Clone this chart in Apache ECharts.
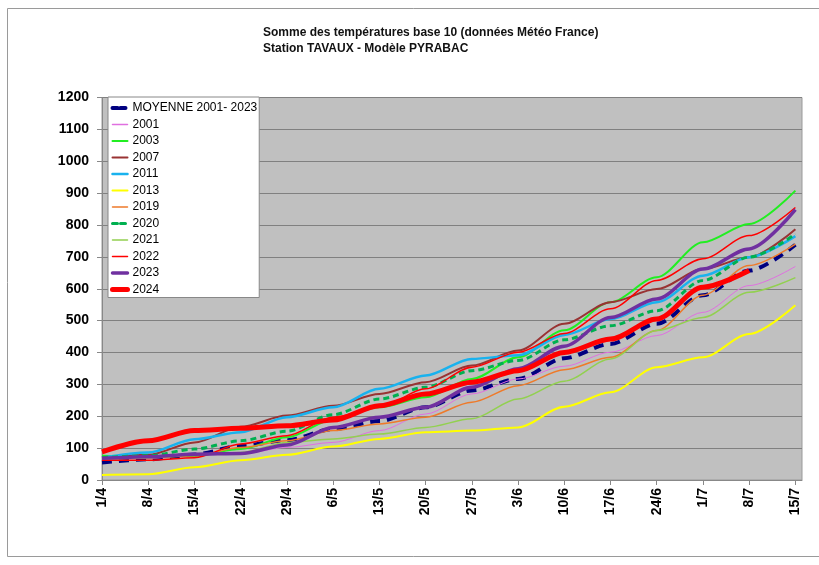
<!DOCTYPE html>
<html>
<head>
<meta charset="utf-8">
<script src="https://cdn.jsdelivr.net/npm/echarts@6/dist/echarts.min.js"></script>
<style>
html,body{margin:0;padding:0;background:#fff;}
#chart{width:819px;height:565px;}
</style>
</head>
<body>
<div id="chart"></div>
<script>
// Day offsets from 1 April for the weekly tick positions
const weekDays = [0, 7, 14, 21, 28, 35, 42, 49, 56, 63, 70, 77, 84, 91, 98, 105];
const tickLabels = ['1/4','8/4','15/4','22/4','29/4','6/5','13/5','20/5','27/5','3/6','10/6','17/6','24/6','1/7','8/7','15/7'];
const yTicks = [0, 100, 200, 300, 400, 500, 600, 700, 800, 900, 1000, 1100, 1200];

const moyenne = [55, 65, 80, 107, 125, 160, 185, 228, 281, 317, 382, 427, 490, 580, 657, 738];
const y2001 = [65, 68, 79, 81, 102, 118, 155, 207, 270, 317, 357, 401, 453, 526, 610, 670];
const y2003 = [76, 73, 76, 97, 134, 190, 228, 260, 317, 385, 470, 558, 636, 746, 803, 908];
const y2007 = [70, 79, 118, 167, 202, 233, 270, 307, 359, 406, 490, 558, 599, 662, 699, 787];
const y2011 = [70, 86, 128, 150, 197, 228, 286, 328, 380, 391, 455, 505, 558, 641, 699, 765];
const y2013 = [16, 18, 40, 62, 79, 105, 129, 150, 155, 165, 230, 275, 354, 385, 458, 548];
const y2019 = [65, 70, 76, 102, 123, 155, 176, 197, 244, 296, 346, 385, 469, 580, 673, 740];
const y2020 = [70, 76, 97, 123, 153, 205, 254, 291, 343, 375, 440, 484, 531, 626, 699, 772];
const y2021 = [65, 70, 79, 86, 118, 129, 144, 165, 192, 254, 310, 380, 469, 510, 589, 635];
const y2022 = [62, 62, 70, 113, 139, 197, 228, 286, 354, 401, 460, 537, 626, 694, 767, 855];
const y2023 = [68, 73, 81, 83, 110, 165, 197, 228, 291, 349, 420, 510, 568, 662, 725, 848];
const y2024 = [88, 123, 155, 162, 170, 188, 233, 270, 307, 343, 400, 442, 505, 605, 657];

const seriesDefs = [
  {name: 'MOYENNE 2001- 2023', data: moyenne, color: '#000080', width: 4, dash: [10, 7]},
  {name: '2001', data: y2001, color: '#E070E0', width: 1},
  {name: '2003', data: y2003, color: '#22EE22', width: 2},
  {name: '2007', data: y2007, color: '#993333', width: 2},
  {name: '2011', data: y2011, color: '#19B2EE', width: 2.5},
  {name: '2013', data: y2013, color: '#FFFF00', width: 2},
  {name: '2019', data: y2019, color: '#EE7A2A', width: 1.5},
  {name: '2020', data: y2020, color: '#00B050', width: 3, dash: [6, 4]},
  {name: '2021', data: y2021, color: '#92D050', width: 1.5},
  {name: '2022', data: y2022, color: '#FF0000', width: 1.5},
  {name: '2023', data: y2023, color: '#7030A0', width: 3.5},
  {name: '2024', data: y2024, color: '#FF0000', width: 5}
];

const chart = echarts.init(document.getElementById('chart'), null, {renderer: 'canvas'});
const font = 'Liberation Sans, Arial, sans-serif';

chart.setOption({
  animation: false,
  backgroundColor: '#ffffff',
  title: {
    text: 'Somme des températures base 10 (données Météo France)\nStation TAVAUX - Modèle PYRABAC',
    left: 258,
    top: 20,
    textStyle: {fontFamily: font, fontSize: 12, fontWeight: 'bold', color: '#111', lineHeight: 16, align: 'center', width: 342}
  },
  graphic: [{
    type: 'rect', shape: {x: 7.5, y: 8.5, width: 830, height: 548},
    style: {fill: 'none', stroke: '#9a9a9a', lineWidth: 1}, silent: true, z: -1
  }],
  legend: {
    orient: 'vertical',
    left: 108,
    top: 97,
    padding: [5, 2, 2, 2],
    itemGap: 4.5,
    itemWidth: 15,
    itemHeight: 12,
    backgroundColor: '#ffffff',
    borderColor: '#888',
    borderWidth: 1,
    itemStyle: {opacity: 0},
    textStyle: {fontFamily: font, fontSize: 12, color: '#000'},
    data: seriesDefs.map(s => ({
      name: s.name,
      lineStyle: {color: s.color, width: Math.max(s.width, 1.5), type: s.dash ? [5, 3] : 'solid', cap: 'round'}
    }))
  },
  grid: {
    left: 102, right: 17, top: 97.5, bottom: 85,
    show: true, backgroundColor: '#C0C0C0', borderColor: '#9a9a9a', borderWidth: 1,
    containLabel: false
  },
  xAxis: {
    type: 'value',
    min: 0, max: 106,
    axisLine: {show: true, lineStyle: {color: '#888', width: 1}},
    axisTick: {show: true, length: 5, lineStyle: {color: '#888'}, customValues: weekDays},
    axisLabel: {
      customValues: weekDays,
      rotate: 90,
      margin: 8,
      fontFamily: font, fontSize: 14, fontWeight: 'bold', color: '#000',
      formatter: v => { const i = weekDays.indexOf(v); return i >= 0 ? tickLabels[i] : ''; }
    },
    splitLine: {show: false}
  },
  yAxis: {
    type: 'value',
    min: 0, max: 1200, interval: 100,
    axisLine: {show: true, lineStyle: {color: '#888', width: 1}},
    axisTick: {show: true, inside: false, length: 5, lineStyle: {color: '#888'}},
    axisLabel: {fontFamily: font, fontSize: 14, fontWeight: 'bold', color: '#000', margin: 13,
      formatter: v => yTicks.indexOf(v) >= 0 ? String(v) : ''},
    splitLine: {show: true, lineStyle: {color: '#808080', width: 1}}
  },
  series: seriesDefs.map(s => ({
    name: s.name,
    type: 'line',
    data: s.data.map((v, i) => [weekDays[i], v]),
    showSymbol: false,
    symbol: 'none',
    smooth: 0.3,
    smoothMonotone: 'x',
    color: s.color,
    lineStyle: {color: s.color, width: s.width, type: s.dash ? s.dash : 'solid', cap: 'butt'},
    emphasis: {disabled: true}
  }))
});
</script>
</body>
</html>
